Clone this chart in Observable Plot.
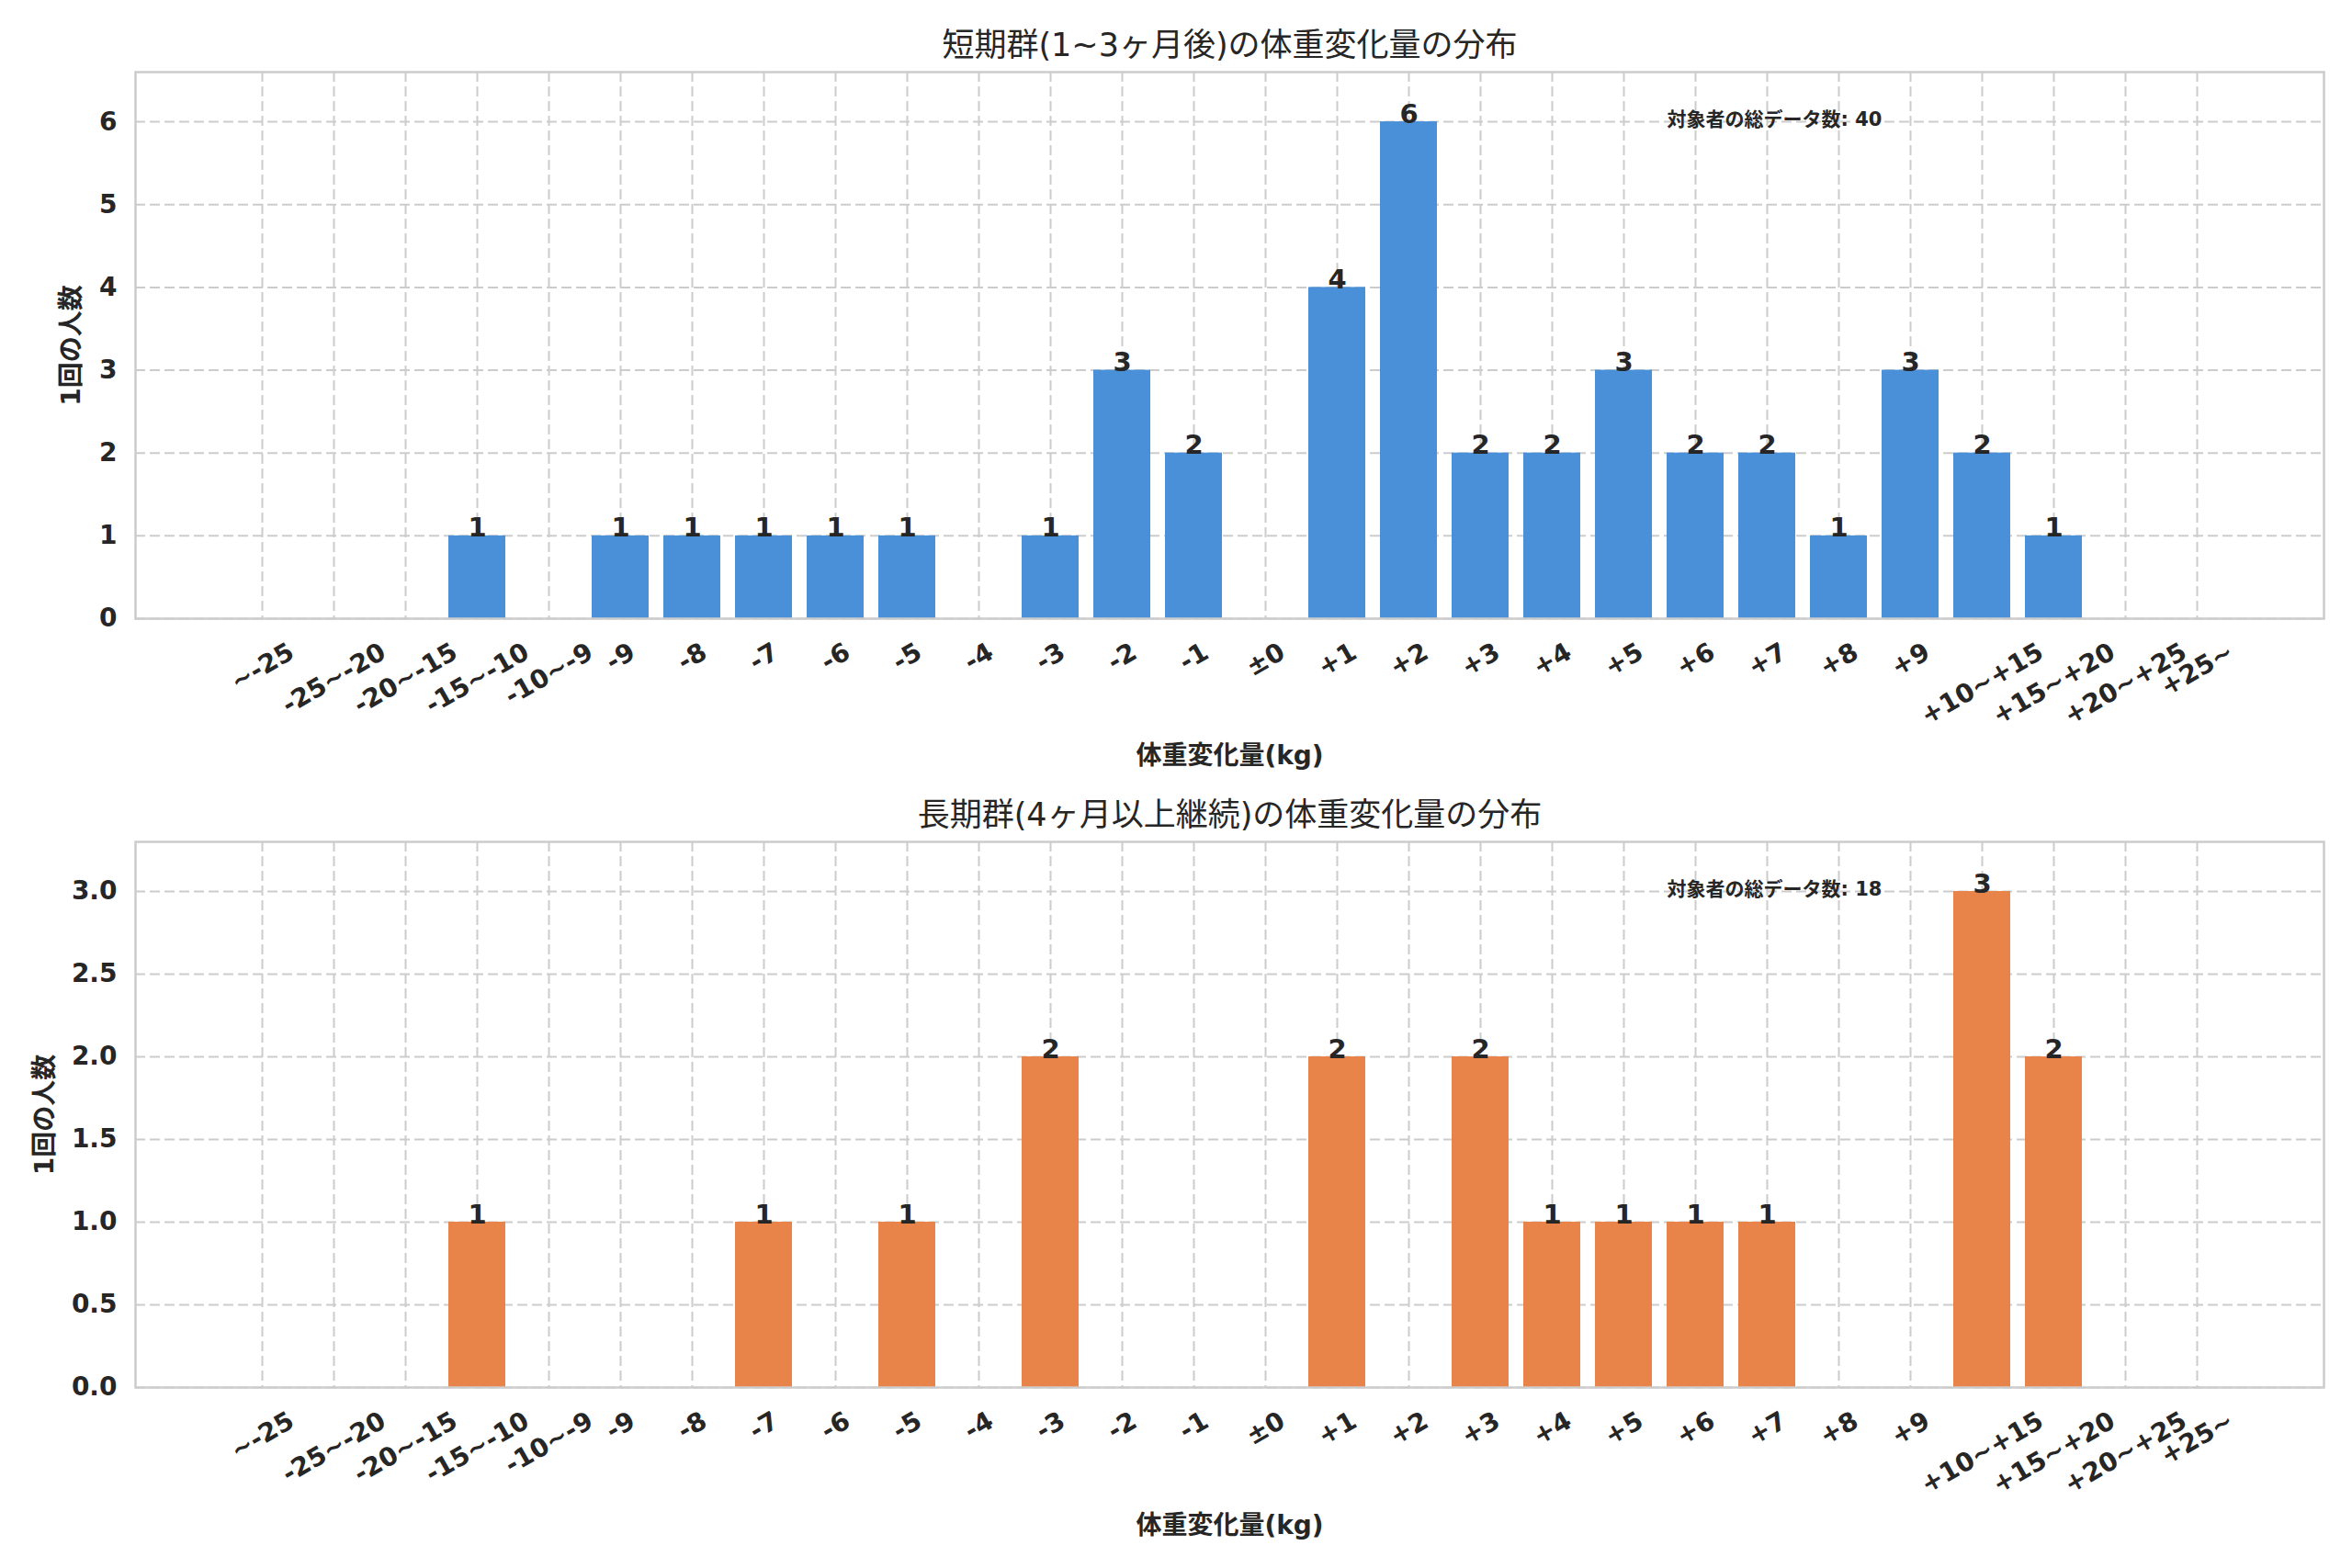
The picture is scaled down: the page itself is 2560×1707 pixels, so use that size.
<!DOCTYPE html>
<html><head><meta charset="utf-8">
<script src="https://cdn.jsdelivr.net/npm/d3@7"></script>
<script src="https://cdn.jsdelivr.net/npm/@observablehq/plot@0.6"></script>
<style>
body{margin:0;background:#fff}
#chart{width:2560px;height:1707px;background:#fff}
#chart svg{display:block}
</style>
</head><body><div id="chart"></div>
<script>
// ---- data ----
const categories = ["~-25","-25~-20","-20~-15","-15~-10","-10~-9","-9","-8","-7","-6","-5","-4","-3","-2","-1","±0","+1","+2","+3","+4","+5","+6","+7","+8","+9","+10~+15","+15~+20","+20~+25","+25~"];
const shortCounts = [0,0,0,1,0,1,1,1,1,1,0,1,3,2,0,4,6,2,2,3,2,2,1,3,2,1,0,0];
const longCounts  = [0,0,0,1,0,0,0,1,0,1,0,2,0,0,0,2,0,2,1,1,1,1,0,0,3,2,0,0];
const shortTicks = [0,1,2,3,4,5,6];
const longTicks = [0,0.5,1,1.5,2,2.5,3];
const titleShort = "短期群(1~3ヶ月後)の体重変化量の分布";
const titleLong = "長期群(4ヶ月以上継続)の体重変化量の分布";
const xLabel = "体重変化量(kg)";
const yLabel = "1回の人数";
const totalLabel = "対象者の総データ数";
const shortTotal = 40;
const longTotal = 18;

const FONT = "'DejaVu Sans', 'Noto Sans CJK JP', sans-serif";
const INK = "#262626";
const GRID = {stroke:"#cccccc", strokeOpacity:1, strokeWidth:2, strokeDasharray:"11,5"};
const ctx = document.createElement("canvas").getContext("2d");
function textWidth(s, size){ ctx.font = `bold ${size}px 'DejaVu Sans'`; return ctx.measureText(s).width; }

function panel({counts, ticks, yMax, fmt, color, title, total, height, marginTop, marginBottom, titleY, xLabelY, yLabelX}) {
  const rows = categories.map((c,i)=>({cat:c, count:counts[i]})).filter(d=>d.count>0);
  const TICK = 28;
  const tickMarks = categories.map(c => {
    const H = textWidth(c, TICK)*0.5 + TICK*1.164*0.866;
    return Plot.text([c], {x: d=>d, frameAnchor:"bottom", dy: 20 + H/2, rotate:-30,
      textAnchor:"middle", lineAnchor:"middle", fontSize:TICK, fontWeight:"bold", fill:INK});
  });
  return Plot.plot({
    width: 2560, height, marginTop, marginBottom, marginLeft:147, marginRight:31,
    style:{fontFamily:FONT, background:"white", color:INK, overflow:"visible"},
    x:{type:"band", domain:categories, paddingInner:0.2, paddingOuter:1.23, axis:null},
    y:{domain:[0,yMax], axis:null},
    marks:[
      Plot.gridX(categories, GRID),
      Plot.gridY(ticks, GRID),
      Plot.barY(rows, {x:"cat", y:"count", fill:color}),
      Plot.text(rows, {x:"cat", y:"count", text:d=>String(d.count), lineAnchor:"bottom", dy:1,
        fontSize:29, fontWeight:"bold", fill:INK}),
      Plot.frame({stroke:"#cccccc", strokeWidth:2.5}),
      Plot.axisY(ticks, {tickSize:0, tickPadding:20, fontSize:28, fontWeight:"bold", tickFormat:fmt, label:null, fill:INK}),
      ...tickMarks,
      Plot.text([title], {frameAnchor:"top", dy:titleY - marginTop, lineAnchor:"middle", fontSize:35, fill:INK}),
      Plot.text([xLabel], {frameAnchor:"bottom", dy:xLabelY - (height - marginBottom), lineAnchor:"middle", fontSize:28, fontWeight:"bold", fill:INK}),
      Plot.text([yLabel], {frameAnchor:"left", dx:yLabelX - 147, rotate:-90, textAnchor:"middle", lineAnchor:"middle", fontSize:28, fontWeight:"bold", fill:INK}),
      Plot.text([`${totalLabel}: ${total}`], {frameAnchor:"top-left", dx:1667, dy:52, textAnchor:"start", lineAnchor:"middle", fontSize:21, fontWeight:"bold", fill:INK})
    ]
  });
}

const root = document.getElementById("chart");
root.append(panel({counts:shortCounts, ticks:shortTicks, yMax:6.6, fmt:d3.format("d"), color:"#4a90d9",
  title:titleShort, total:shortTotal, height:853, marginTop:78, marginBottom:180, titleY:49, xLabelY:823, yLabelX:78}));
root.append(panel({counts:longCounts, ticks:longTicks, yMax:3.3, fmt:d3.format(".1f"), color:"#e8834a",
  title:titleLong, total:longTotal, height:854, marginTop:63, marginBottom:197, titleY:34, xLabelY:808, yLabelX:49}));
</script>
</body></html>
